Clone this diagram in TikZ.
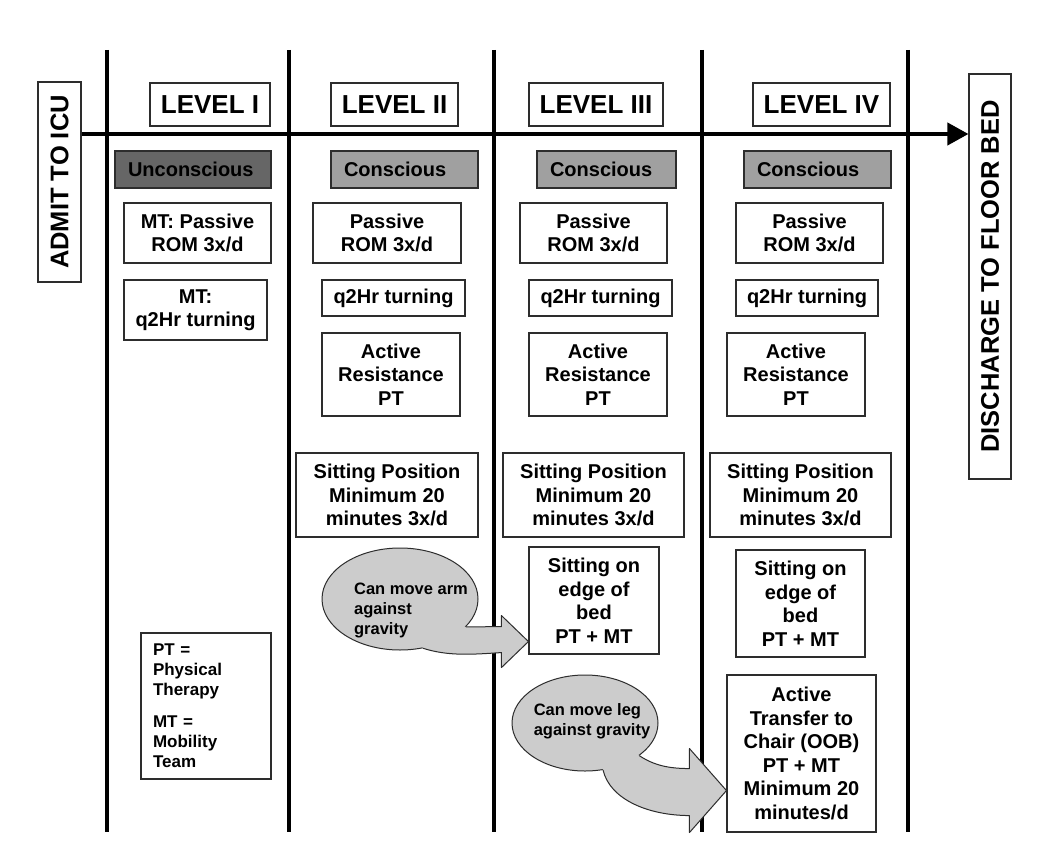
\documentclass[tikz,border=0pt]{standalone}
\usepackage{fontspec}
\setmainfont{Liberation Sans}
\usetikzlibrary{shapes.geometric,calc,arrows.meta}

\definecolor{darkstate}{RGB}{102,102,102}
\definecolor{midstate}{RGB}{160,160,160}
\definecolor{ovalgray}{RGB}{204,204,204}
\definecolor{edgegray}{RGB}{45,45,45}

\newcommand\boxfont{\fontsize{20}{23.5}\selectfont\bfseries}
\newcommand\lvlfont{\fontsize{26}{30}\selectfont\bfseries}
\newcommand\sidefont{\fontsize{25.5}{30}\selectfont\bfseries}
\newcommand\ovalfont{\fontsize{16.5}{20}\selectfont\bfseries}
\newcommand\keyfont{\fontsize{17}{20}\selectfont\bfseries}

\begin{document}
\begin{tikzpicture}[x=1pt,y=-1pt,
  wh/.style 2 args={minimum width=#1pt, minimum height=#2pt},
  box/.style={draw=edgegray, line width=1.1pt, fill=white, inner sep=0pt,
              align=center, font=\boxfont},
  lvl/.style={box, font=\lvlfont},
  side/.style={box, font=\sidefont},
  state/.style={draw=edgegray, line width=1.1pt, inner xsep=13pt, inner ysep=0pt,
                align=left, font=\boxfont, minimum height=37pt},
  keybox/.style={draw=edgegray, line width=1.1pt, fill=white, inner xsep=12pt,
                 inner ysep=0pt, align=left, font=\keyfont},
  oval/.style={ellipse, draw=edgegray, line width=1pt, fill=ovalgray,
               inner sep=0pt, font=\ovalfont},
  lane/.style={line width=4pt},
  axis/.style={line width=4pt, -{Triangle[length=21pt,width=22pt]}},
  flowfill/.style={fill=ovalgray},
  flowline/.style={draw=edgegray, line width=1pt, line join=round},
]
% page
\fill[white] (0,0) rectangle (1040,842);
\useasboundingbox (0,0) rectangle (1040,842);

% lane dividers
\foreach \lx in {107,289,494,702,908}
  \draw[lane] (\lx,50) -- (\lx,832);

% admission / discharge
\node[side, rotate=90, wh={200}{43}] (admit) at (59.5,182) {ADMIT TO ICU};
\node[side, rotate=90, wh={405}{42}] (discharge) at (990,276.5) {DISCHARGE TO FLOOR BED};
\coordinate (axisy) at (0,134);
\draw[axis] (admit.south |- axisy) -- (discharge.north |- axisy);

% level headers
\node[lvl, wh={120}{43}] (lvl1) at (210,104.5) {LEVEL I};
\node[lvl, wh={127}{43}] (lvl2) at (394.5,104.5) {LEVEL II};
\node[lvl, wh={134}{43}] (lvl3) at (596,104.5) {LEVEL III};
\node[lvl, wh={137}{43}] (lvl4) at (821.5,104.5) {LEVEL IV};

% consciousness
\node[state, fill=darkstate, text width=130pt] (s1) at (193,169.5) {Unconscious};
\node[state, fill=midstate, text width=121pt] (s2) at (404.5,169.5) {Conscious};
\node[state, fill=midstate, text width=113pt] (s3) at (606.5,169.5) {Conscious};
\node[state, fill=midstate, text width=121pt] (s4) at (817.5,169.5) {Conscious};

% passive range of motion
\node[box, wh={147}{60}] (p1) at (197.5,233) {MT: Passive\\ROM 3x/d};
\node[box, wh={148}{60}] (p2) at (387,233) {Passive\\ROM 3x/d};
\node[box, wh={147}{60}] (p3) at (593.5,233) {Passive\\ROM 3x/d};
\node[box, wh={147}{60}] (p4) at (809.5,233) {Passive\\ROM 3x/d};

% turning
\node[box, wh={143}{60}] (t1) at (195.5,310) {MT:\\q2Hr turning};
\node[box, wh={143}{36}] (t2) at (393.5,298) {q2Hr turning};
\node[box, wh={143}{36}] (t3) at (600.5,298) {q2Hr turning};
\node[box, wh={142}{36}] (t4) at (807,298) {q2Hr turning};

% active resistance
\node[box, wh={138}{83}] (a2) at (391,374.5) {Active\\Resistance\\PT};
\node[box, wh={138}{83}] (a3) at (598,374.5) {Active\\Resistance\\PT};
\node[box, wh={138}{83}] (a4) at (796,374.5) {Active\\Resistance\\PT};

% sitting position
\node[box, wh={182}{84}] (sp2) at (387,495) {Sitting Position\\Minimum 20\\minutes 3x/d};
\node[box, wh={181}{84}] (sp3) at (593.5,495) {Sitting Position\\Minimum 20\\minutes 3x/d};
\node[box, wh={181}{84}] (sp4) at (800.5,495) {Sitting Position\\Minimum 20\\minutes 3x/d};

% edge of bed
\node[box, wh={130}{107}] (e3) at (594,600.5) {Sitting on\\edge of\\bed\\PT + MT};
\node[box, wh={129}{107}] (e4) at (800.5,603.5) {Sitting on\\edge of\\bed\\PT + MT};

% transfer to chair
\node[box, wh={149}{157}] (tr4) at (801.5,753.5)
  {Active\\Transfer to\\Chair (OOB)\\PT + MT\\Minimum 20\\minutes/d};

% abbreviations
\node[keybox, text width=106pt, minimum height=146pt] (key) at (206,706)
  {PT =\\Physical\\Therapy\\[12pt]MT =\\Mobility\\Team};

% milestone ovals
\node[oval, wh={156}{102}] (arm) at (400,599)
  {\raisebox{-16pt}[0pt][0pt]{\makebox[0pt]{\hspace*{22pt}\begin{tabular}{@{}l@{}}Can move arm\\against\\gravity\end{tabular}}}};
\node[oval, wh={146}{96}] (leg) at (585,723)
  {\raisebox{-3pt}[0pt][0pt]{\makebox[0pt]{\hspace*{14pt}\begin{tabular}{@{}l@{}}Can move leg\\against gravity\end{tabular}}}};

% block arrow: arm -> edge of bed
\coordinate (armtip) at ($(e3.south west)+(0,-13)$);
\path[flowfill] ($(arm.center)!0.9!(arm.-23)$) -- (arm.-23)
  -- ($(armtip)+(-27,-15)$) -- ($(armtip)+(-27,-26)$) -- (armtip)
  -- ($(armtip)+(-27,26)$) -- ($(armtip)+(-27,11)$)
  .. controls +(-30,2) and +(25,8) .. (arm.-65)
  -- ($(arm.center)!0.9!(arm.-65)$) -- cycle;
\draw[flowline] (arm.-23)
  -- ($(armtip)+(-27,-15)$) -- ($(armtip)+(-27,-26)$) -- (armtip)
  -- ($(armtip)+(-27,26)$) -- ($(armtip)+(-27,11)$)
  .. controls +(-30,2) and +(25,8) .. (arm.-65);

% block arrow: leg -> transfer to chair
\coordinate (legtip) at ($(tr4.south west)+(0,-42)$);
\path[flowfill] ($(leg.center)!0.9!(leg.-31)$) -- (leg.-31)
  .. controls +(15,10) and +(-20,0) .. ($(legtip)+(-37,-22)$)
  -- ($(legtip)+(-37,-42)$) -- (legtip) -- ($(legtip)+(-37,42)$)
  -- ($(legtip)+(-37,25)$)
  .. controls +(-40,0) and +(7,30) .. (leg.-69)
  -- ($(leg.center)!0.9!(leg.-69)$) -- cycle;
\draw[flowline] (leg.-31)
  .. controls +(15,10) and +(-20,0) .. ($(legtip)+(-37,-22)$)
  -- ($(legtip)+(-37,-42)$) -- (legtip) -- ($(legtip)+(-37,42)$)
  -- ($(legtip)+(-37,25)$)
  .. controls +(-40,0) and +(7,30) .. (leg.-69);
\end{tikzpicture}
\end{document}
